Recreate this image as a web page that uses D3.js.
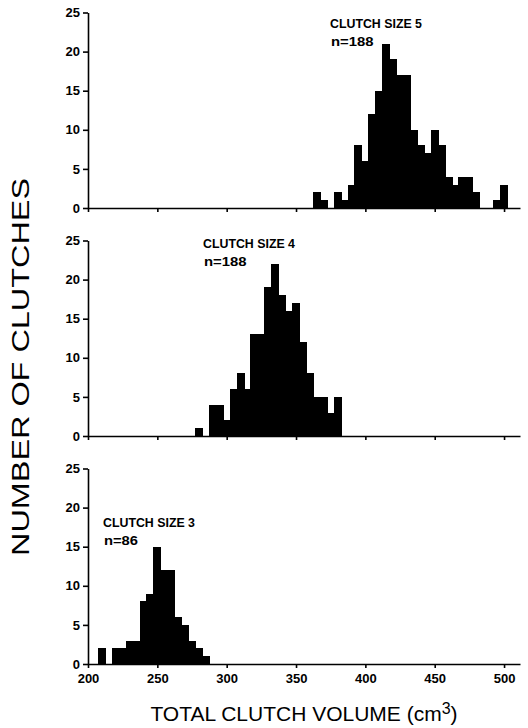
<!DOCTYPE html>
<html>
<head>
<meta charset="utf-8">
<script src="https://cdn.jsdelivr.net/npm/d3@7"></script>
<style>
body { margin: 0; background: #fff; }
.tickLbl text { font-family: 'Liberation Sans', Arial, sans-serif; font-weight: bold; font-size: 13px; fill: #000; }
.panelLbl { font-family: 'Liberation Sans', Arial, sans-serif; font-weight: bold; font-size: 12px; }
.axTitle { font-family: 'Liberation Sans', Arial, sans-serif; font-weight: normal; }
</style>
</head>
<body>
<svg id="chart" width="528" height="728"></svg>
<script>
"use strict";
// bin centres (cm3) and number of clutches, 5 cm3 bins
var size5Volumes = [365, 370, 375, 380, 385, 390, 395, 400, 405, 410, 415, 420, 425, 430, 435, 440, 445, 450, 455, 460, 465, 470, 475, 480, 485, 490, 495, 500];
var size5Counts  = [2, 1, 0, 2, 1, 3, 8, 6, 12, 15, 21, 19, 17, 17, 10, 8, 7, 10, 8, 4, 3, 4, 4, 2, 0, 0, 1, 3];

var size4Volumes = [280, 285, 290, 295, 300, 305, 310, 315, 320, 325, 330, 335, 340, 345, 350, 355, 360, 365, 370, 375, 380];
var size4Counts  = [1, 0, 4, 4, 2, 6, 8, 6, 13, 13, 19, 22, 18, 16, 17, 12, 8, 5, 5, 3, 5];

var size3Volumes = [210, 215, 220, 225, 230, 235, 240, 245, 250, 255, 260, 265, 270, 275, 280, 285];
var size3Counts  = [2, 0, 2, 2, 3, 3, 8, 9, 15, 12, 12, 6, 5, 3, 2, 1];

var panelNames = ['CLUTCH SIZE 5', 'CLUTCH SIZE 4', 'CLUTCH SIZE 3'];
var panelN = ['n=188', 'n=188', 'n=86'];
var xTicks = [200, 250, 300, 350, 400, 450, 500];
var yTicks = [0, 5, 10, 15, 20, 25];
var binWidth = 5;

var svg = d3.select('#chart');

var x = d3.scaleLinear().domain([200, 511.5]).range([88, 520]);

var panels = [
	{vols: size5Volumes, counts: size5Counts, zero: 208, lblX: 330, lblY: 28},
	{vols: size4Volumes, counts: size4Counts, zero: 436, lblX: 203, lblY: 248},
	{vols: size3Volumes, counts: size3Counts, zero: 664, lblX: 103, lblY: 527}
];

panels.forEach(function(p, i) {
	var y = d3.scaleLinear().domain([0, 25]).range([p.zero, p.zero - 195.5]);
	var g = svg.append('g');
	var bins = p.vols.map(function(v, j) { return {v: v, c: p.counts[j]}; });

	//bars drawn crisp and slightly wide so neighbours touch with no seams
	g.selectAll('rect.bar').data(bins).enter().append('rect')
		.attr('class', 'bar')
		.attr('x', function(d) { return Math.floor(x(d.v - binWidth / 2)); })
		.attr('width', function(d) { return Math.ceil(x(d.v + binWidth / 2)) - Math.floor(x(d.v - binWidth / 2)); })
		.attr('y', function(d) { return y(d.c); })
		.attr('height', function(d) { return p.zero - y(d.c); })
		.attr('shape-rendering', 'crispEdges')
		.style('fill', '#000');

	//y axis
	var ya = g.append('g')
		.attr('class', 'tickLbl')
		.attr('transform', 'translate(' + x(200) + ',0)')
		.call(d3.axisLeft(y).tickValues(yTicks).tickSize(5).tickSizeOuter(0).tickPadding(3));
	ya.selectAll('path, line').style('stroke', '#000').style('stroke-width', 1.6);

	//x axis, labels only on the bottom panel
	var xAxis = d3.axisBottom(x).tickValues(xTicks).tickSize(4).tickSizeOuter(0).tickPadding(6);
	if (i < 2) xAxis.tickFormat('');
	var xa = g.append('g')
		.attr('class', 'tickLbl')
		.attr('transform', 'translate(0,' + p.zero + ')')
		.call(xAxis);
	xa.selectAll('path, line').style('stroke', '#000').style('stroke-width', 1.6);

	g.append('text')
		.attr('class', 'panelLbl')
		.attr('x', p.lblX)
		.attr('y', p.lblY)
		.attr('textLength', 92)
		.attr('lengthAdjust', 'spacingAndGlyphs')
		.text(panelNames[i]);
	g.append('text')
		.attr('class', 'panelLbl')
		.attr('x', p.lblX + 1)
		.attr('y', p.lblY + 18)
		.attr('textLength', panelN[i].length * 8.5)
		.attr('lengthAdjust', 'spacingAndGlyphs')
		.text(panelN[i]);
});

//axis titles
var xt = svg.append('text')
	.attr('class', 'axTitle')
	.attr('x', 304)
	.attr('y', 721)
	.attr('text-anchor', 'middle')
	.style('font-size', '21px')
	.text('TOTAL CLUTCH VOLUME (cm');
xt.append('tspan').attr('dy', -7).style('font-size', '16px').text('3');
xt.append('tspan').attr('dy', 7).text(')');

svg.append('text')
	.attr('class', 'axTitle')
	.attr('transform', 'translate(29,367) rotate(-90)')
	.attr('text-anchor', 'middle')
	.attr('textLength', 378)
	.attr('lengthAdjust', 'spacingAndGlyphs')
	.style('font-size', '23px')
	.text('NUMBER OF CLUTCHES');
</script>
</body>
</html>
